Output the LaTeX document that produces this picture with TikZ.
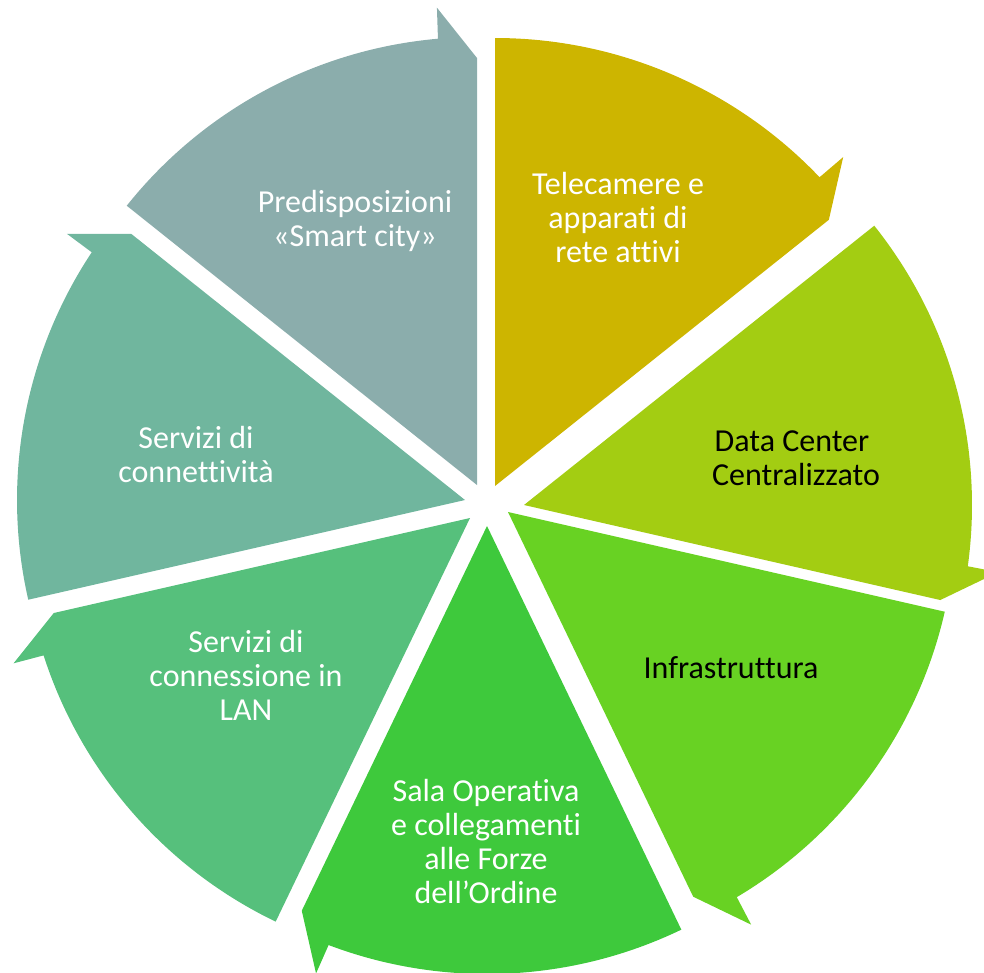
\documentclass[tikz,border=0pt]{standalone}
\usepackage{fontspec}
\setmainfont[Ligatures={NoCommon}]{Carlito}
\definecolor{cYel}{RGB}{205,181,0}
\definecolor{cLime}{RGB}{163,205,18}
\definecolor{cInfra}{RGB}{104,210,35}
\definecolor{cSala}{RGB}{62,201,60}
\definecolor{cConn}{RGB}{86,192,124}
\definecolor{cNet}{RGB}{112,182,158}
\definecolor{cGray}{RGB}{139,173,172}
\tikzset{
  seglabel/.style={align=center, font=\fontsize{32}{34}\selectfont, text=white, inner sep=0pt},
  darklabel/.style={seglabel, text=black}
}
% #1 colour, #2 apex x, #3 apex y (pixels, downward), #4 start angle, #5 end angle (clockwise end)
\newcommand{\cyclesegment}[5]{%
  \fill[#1, shift={(#2,-#3)}] (0,0) -- (#4:448)
    arc[start angle=#4, end angle=#5+5, radius=448]
    -- (#5+4.8:479) -- (#5:427) -- cycle;}
\begin{document}
\begin{tikzpicture}[x=1pt,y=1pt]
  \useasboundingbox (0,0) rectangle (984,-972);
  \clip (0,0) rectangle (984,-972);
  \cyclesegment{cYel}{495}{486}{90}{38.57}
  \cyclesegment{cLime}{524}{505}{38.57}{-12.86}
  \cyclesegment{cInfra}{508}{512}{-12.86}{-64.29}
  \cyclesegment{cSala}{487}{526}{-64.29}{-115.71}
  \cyclesegment{cConn}{470}{518}{-115.71}{-167.14}
  \cyclesegment{cNet}{465}{500}{192.86}{141.43}
  \cyclesegment{cGray}{477}{485}{141.43}{90}
  \node[seglabel] (tele) at (618,-218) {Telecamere e\\apparati di\\rete attivi};
  \node[darklabel] (dc) at (796,-458) {Data Center\hspace*{0.25em}\\Centralizzato};
  \node[darklabel] (infra) at (731,-668) {Infrastruttura};
  \node[seglabel] (sala) at (486,-841) {Sala Operativa\\e collegamenti\\alle Forze\\dell’Ordine};
  \node[seglabel] (lan) at (246,-675) {Servizi di\\connessione in\\LAN};
  \node[seglabel] (conn) at (196,-454) {Servizi di\\connettività};
  \node[seglabel] (smart) at (355,-221) {Predisposizioni\\«Smart city»};
\end{tikzpicture}
\end{document}
